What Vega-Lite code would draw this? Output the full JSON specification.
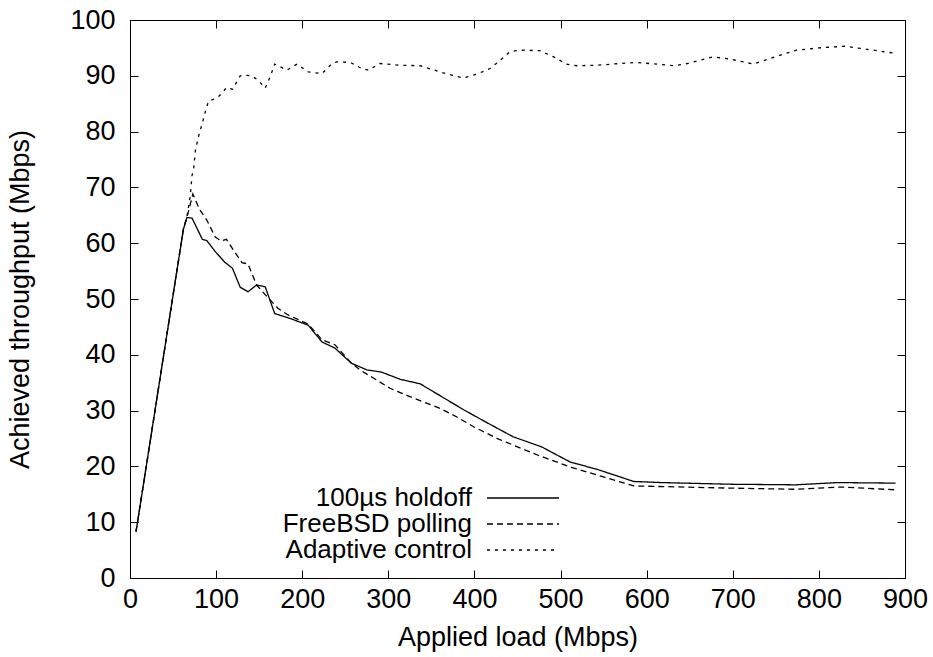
{
  "$schema": "https://vega.github.io/schema/vega-lite/v6.json",
  "width": 775,
  "height": 558,
  "autosize": {"type": "none"},
  "padding": {"left": 130, "top": 20, "right": 28, "bottom": 79},
  "background": "white",
  "config": {
    "font": "Liberation Sans",
    "view": {"stroke": "black", "strokeWidth": 1},
    "axis": {
      "grid": false,
      "domain": false,
      "labelFlush": false,
      "tickColor": "black",
      "tickSize": -8,
      "tickWidth": 1,
      "labelFont": "Liberation Sans",
      "labelFontSize": 27,
      "labelColor": "black",
      "titleFont": "Liberation Sans",
      "titleFontSize": 27,
      "titleFontWeight": "normal",
      "titleColor": "black"
    }
  },
  "data": {
    "values": [
      {"series": "100µs holdoff", "load": 7, "tput": 8.3},
      {"series": "100µs holdoff", "load": 62, "tput": 62.5},
      {"series": "100µs holdoff", "load": 66, "tput": 64.6},
      {"series": "100µs holdoff", "load": 72, "tput": 64.5},
      {"series": "100µs holdoff", "load": 84, "tput": 60.7},
      {"series": "100µs holdoff", "load": 89, "tput": 60.5},
      {"series": "100µs holdoff", "load": 99, "tput": 58.5},
      {"series": "100µs holdoff", "load": 110, "tput": 56.6},
      {"series": "100µs holdoff", "load": 119, "tput": 55.5},
      {"series": "100µs holdoff", "load": 128, "tput": 52.1},
      {"series": "100µs holdoff", "load": 137, "tput": 51.3},
      {"series": "100µs holdoff", "load": 147, "tput": 52.5},
      {"series": "100µs holdoff", "load": 157, "tput": 52.2},
      {"series": "100µs holdoff", "load": 168, "tput": 47.4},
      {"series": "100µs holdoff", "load": 188, "tput": 46.4},
      {"series": "100µs holdoff", "load": 207, "tput": 45.3},
      {"series": "100µs holdoff", "load": 223, "tput": 42.3},
      {"series": "100µs holdoff", "load": 238, "tput": 41.2},
      {"series": "100µs holdoff", "load": 257, "tput": 38.5},
      {"series": "100µs holdoff", "load": 275, "tput": 37.3},
      {"series": "100µs holdoff", "load": 292, "tput": 36.9},
      {"series": "100µs holdoff", "load": 314, "tput": 35.6},
      {"series": "100µs holdoff", "load": 337, "tput": 34.8},
      {"series": "100µs holdoff", "load": 388, "tput": 30.1},
      {"series": "100µs holdoff", "load": 415, "tput": 27.8},
      {"series": "100µs holdoff", "load": 445, "tput": 25.3},
      {"series": "100µs holdoff", "load": 478, "tput": 23.5},
      {"series": "100µs holdoff", "load": 511, "tput": 20.8},
      {"series": "100µs holdoff", "load": 544, "tput": 19.4},
      {"series": "100µs holdoff", "load": 585, "tput": 17.3},
      {"series": "100µs holdoff", "load": 617, "tput": 17.1},
      {"series": "100µs holdoff", "load": 699, "tput": 16.8},
      {"series": "100µs holdoff", "load": 773, "tput": 16.7},
      {"series": "100µs holdoff", "load": 822, "tput": 17.1},
      {"series": "100µs holdoff", "load": 889, "tput": 17.0},

      {"series": "FreeBSD polling", "load": 7, "tput": 8.3},
      {"series": "FreeBSD polling", "load": 62, "tput": 62.5},
      {"series": "FreeBSD polling", "load": 66, "tput": 64.6},
      {"series": "FreeBSD polling", "load": 73, "tput": 68.8},
      {"series": "FreeBSD polling", "load": 81, "tput": 66.0},
      {"series": "FreeBSD polling", "load": 89, "tput": 64.2},
      {"series": "FreeBSD polling", "load": 99, "tput": 61.1},
      {"series": "FreeBSD polling", "load": 106, "tput": 60.4},
      {"series": "FreeBSD polling", "load": 112, "tput": 60.7},
      {"series": "FreeBSD polling", "load": 120, "tput": 58.8},
      {"series": "FreeBSD polling", "load": 130, "tput": 56.5},
      {"series": "FreeBSD polling", "load": 137, "tput": 56.3},
      {"series": "FreeBSD polling", "load": 147, "tput": 52.5},
      {"series": "FreeBSD polling", "load": 161, "tput": 50.1},
      {"series": "FreeBSD polling", "load": 172, "tput": 48.3},
      {"series": "FreeBSD polling", "load": 184, "tput": 47.1},
      {"series": "FreeBSD polling", "load": 197, "tput": 46.2},
      {"series": "FreeBSD polling", "load": 207, "tput": 45.5},
      {"series": "FreeBSD polling", "load": 223, "tput": 42.7},
      {"series": "FreeBSD polling", "load": 238, "tput": 41.8},
      {"series": "FreeBSD polling", "load": 257, "tput": 38.5},
      {"series": "FreeBSD polling", "load": 267, "tput": 37.3},
      {"series": "FreeBSD polling", "load": 283, "tput": 35.8},
      {"series": "FreeBSD polling", "load": 302, "tput": 34.0},
      {"series": "FreeBSD polling", "load": 325, "tput": 32.5},
      {"series": "FreeBSD polling", "load": 360, "tput": 30.4},
      {"series": "FreeBSD polling", "load": 379, "tput": 28.9},
      {"series": "FreeBSD polling", "load": 399, "tput": 27.1},
      {"series": "FreeBSD polling", "load": 428, "tput": 24.9},
      {"series": "FreeBSD polling", "load": 474, "tput": 22.0},
      {"series": "FreeBSD polling", "load": 511, "tput": 19.9},
      {"series": "FreeBSD polling", "load": 548, "tput": 18.2},
      {"series": "FreeBSD polling", "load": 585, "tput": 16.5},
      {"series": "FreeBSD polling", "load": 699, "tput": 16.1},
      {"series": "FreeBSD polling", "load": 773, "tput": 15.9},
      {"series": "FreeBSD polling", "load": 826, "tput": 16.3},
      {"series": "FreeBSD polling", "load": 889, "tput": 15.8},

      {"series": "Adaptive control", "load": 7, "tput": 8.3},
      {"series": "Adaptive control", "load": 62, "tput": 62.5},
      {"series": "Adaptive control", "load": 66, "tput": 64.6},
      {"series": "Adaptive control", "load": 70, "tput": 68.5},
      {"series": "Adaptive control", "load": 72, "tput": 72.1},
      {"series": "Adaptive control", "load": 74, "tput": 73.4},
      {"series": "Adaptive control", "load": 76, "tput": 76.7},
      {"series": "Adaptive control", "load": 80, "tput": 79.4},
      {"series": "Adaptive control", "load": 84, "tput": 81.5},
      {"series": "Adaptive control", "load": 87, "tput": 83.3},
      {"series": "Adaptive control", "load": 91, "tput": 85.4},
      {"series": "Adaptive control", "load": 97, "tput": 85.8},
      {"series": "Adaptive control", "load": 103, "tput": 86.3},
      {"series": "Adaptive control", "load": 108, "tput": 87.1},
      {"series": "Adaptive control", "load": 112, "tput": 87.9},
      {"series": "Adaptive control", "load": 119, "tput": 87.6},
      {"series": "Adaptive control", "load": 124, "tput": 88.9},
      {"series": "Adaptive control", "load": 128, "tput": 90.0},
      {"series": "Adaptive control", "load": 134, "tput": 90.1},
      {"series": "Adaptive control", "load": 141, "tput": 90.0},
      {"series": "Adaptive control", "load": 149, "tput": 89.2},
      {"series": "Adaptive control", "load": 157, "tput": 87.8},
      {"series": "Adaptive control", "load": 163, "tput": 89.9},
      {"series": "Adaptive control", "load": 168, "tput": 92.1},
      {"series": "Adaptive control", "load": 176, "tput": 91.5},
      {"series": "Adaptive control", "load": 182, "tput": 91.0},
      {"series": "Adaptive control", "load": 194, "tput": 92.1},
      {"series": "Adaptive control", "load": 207, "tput": 90.7},
      {"series": "Adaptive control", "load": 223, "tput": 90.4},
      {"series": "Adaptive control", "load": 234, "tput": 92.1},
      {"series": "Adaptive control", "load": 240, "tput": 92.5},
      {"series": "Adaptive control", "load": 256, "tput": 92.4},
      {"series": "Adaptive control", "load": 269, "tput": 91.3},
      {"series": "Adaptive control", "load": 277, "tput": 91.0},
      {"series": "Adaptive control", "load": 290, "tput": 92.2},
      {"series": "Adaptive control", "load": 314, "tput": 91.9},
      {"series": "Adaptive control", "load": 337, "tput": 91.8},
      {"series": "Adaptive control", "load": 360, "tput": 90.7},
      {"series": "Adaptive control", "load": 387, "tput": 89.6},
      {"series": "Adaptive control", "load": 403, "tput": 90.3},
      {"series": "Adaptive control", "load": 418, "tput": 91.3},
      {"series": "Adaptive control", "load": 430, "tput": 92.8},
      {"series": "Adaptive control", "load": 441, "tput": 94.3},
      {"series": "Adaptive control", "load": 453, "tput": 94.6},
      {"series": "Adaptive control", "load": 476, "tput": 94.5},
      {"series": "Adaptive control", "load": 492, "tput": 93.4},
      {"series": "Adaptive control", "load": 507, "tput": 92.1},
      {"series": "Adaptive control", "load": 519, "tput": 91.8},
      {"series": "Adaptive control", "load": 542, "tput": 91.9},
      {"series": "Adaptive control", "load": 588, "tput": 92.4},
      {"series": "Adaptive control", "load": 633, "tput": 91.8},
      {"series": "Adaptive control", "load": 647, "tput": 92.2},
      {"series": "Adaptive control", "load": 677, "tput": 93.4},
      {"series": "Adaptive control", "load": 697, "tput": 93.0},
      {"series": "Adaptive control", "load": 724, "tput": 92.1},
      {"series": "Adaptive control", "load": 747, "tput": 93.3},
      {"series": "Adaptive control", "load": 774, "tput": 94.6},
      {"series": "Adaptive control", "load": 800, "tput": 95.0},
      {"series": "Adaptive control", "load": 830, "tput": 95.3},
      {"series": "Adaptive control", "load": 863, "tput": 94.6},
      {"series": "Adaptive control", "load": 890, "tput": 94.0}
    ]
  },
  "layer": [
    {
      "mark": {"type": "line", "color": "black", "strokeWidth": 1.3},
      "encoding": {
        "x": {
          "field": "load", "type": "quantitative",
          "scale": {"domain": [0, 900], "nice": false, "zero": false},
          "axis": {
            "orient": "bottom",
            "values": [0, 100, 200, 300, 400, 500, 600, 700, 800, 900],
            "title": "Applied load (Mbps)",
            "labelPadding": 16,
            "titleX": 387.5, "titleY": 59, "titleBaseline": "middle", "titleAlign": "center"
          }
        },
        "y": {
          "field": "tput", "type": "quantitative",
          "scale": {"domain": [0, 100], "nice": false},
          "axis": {
            "orient": "left",
            "values": [0, 10, 20, 30, 40, 50, 60, 70, 80, 90, 100],
            "title": "Achieved throughput (Mbps)",
            "labelPadding": 23,
            "titleX": -110, "titleY": 279, "titleAngle": -90, "titleBaseline": "middle", "titleAlign": "center"
          }
        },
        "strokeDash": {
          "field": "series", "type": "nominal",
          "scale": {
            "domain": ["100µs holdoff", "FreeBSD polling", "Adaptive control"],
            "range": [[1, 0], [6, 4], [3, 5]]
          },
          "legend": {
            "orient": "none",
            "legendX": 380,
            "legendY": 465,
            "title": null,
            "padding": 0,
            "symbolType": "M-3.6,0H3.6",
            "symbolSize": 400,
            "symbolStrokeWidth": 1.3,
            "symbolStrokeColor": "black",
            "symbolFillColor": "transparent",
            "labelFont": "Liberation Sans",
            "labelFontSize": 26,
            "labelColor": "black",
            "labelAlign": "right",
            "labelOffset": -64,
            "labelLimit": 400,
            "rowPadding": 0
          }
        }
      }
    },
    {
      "mark": {"type": "line", "color": "black", "strokeOpacity": 0},
      "encoding": {
        "x": {
          "field": "load", "type": "quantitative",
          "scale": {"domain": [0, 900], "nice": false, "zero": false},
          "axis": {
            "orient": "top",
            "values": [0, 100, 200, 300, 400, 500, 600, 700, 800, 900],
            "labels": false, "title": null
          }
        },
        "y": {
          "field": "tput", "type": "quantitative",
          "scale": {"domain": [0, 100], "nice": false},
          "axis": {
            "orient": "right",
            "values": [0, 10, 20, 30, 40, 50, 60, 70, 80, 90, 100],
            "labels": false, "title": null
          }
        },
        "detail": {"field": "series", "type": "nominal"}
      }
    }
  ],
  "resolve": {"axis": {"x": "independent", "y": "independent"}}
}
